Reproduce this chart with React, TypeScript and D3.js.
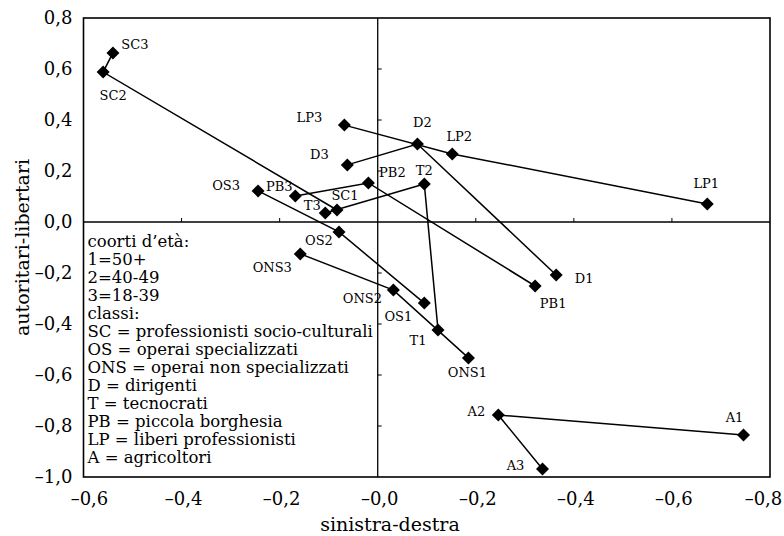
import React from 'react';
import * as d3 from 'd3';

// classes, each with cohort 1 (50+), 2 (40-49), 3 (18-39)
const classes = ['SC', 'OS', 'ONS', 'D', 'T', 'PB', 'LP', 'A'];
const cohorts = ['1', '2', '3'];

// sinistra-destra
const xValues = [
  [-0.083, -0.56, -0.54],
  [0.095, -0.079, -0.244],
  [0.185, 0.032, -0.158],
  [0.364, 0.081, -0.062],
  [0.123, 0.095, -0.107],
  [0.321, -0.019, -0.168],
  [0.672, 0.152, -0.068],
  [0.746, 0.246, 0.336],
];

// autoritari-libertari
const yValues = [
  [0.047, 0.588, 0.663],
  [-0.318, -0.039, 0.122],
  [-0.533, -0.267, -0.125],
  [-0.208, 0.306, 0.224],
  [-0.424, 0.149, 0.035],
  [-0.251, 0.153, 0.102],
  [0.071, 0.267, 0.38],
  [-0.835, -0.757, -0.969],
];

const xTicks = [-0.6, -0.4, -0.2, 0, 0.2, 0.4, 0.6, 0.8];
const xTickLabels = ['–0,6', '–0,4', '–0,2', '–0,0', '–0,2', '–0,4', '–0,6', '–0,8'];
const yTicks = [0.8, 0.6, 0.4, 0.2, 0, -0.2, -0.4, -0.6, -0.8, -1.0];
const yTickLabels = ['0,8', '0,6', '0,4', '0,2', '0,0', '–0,2', '–0,4', '–0,6', '–0,8', '–1,0'];

const legendLines = [
  'coorti d’età:',
  '1=50+',
  '2=40-49',
  '3=18-39',
  'classi:',
  'SC = professionisti socio-culturali',
  'OS = operai specializzati',
  'ONS = operai non specializzati',
  'D = dirigenti',
  'T = tecnocrati',
  'PB = piccola borghesia',
  'LP = liberi professionisti',
  'A = agricoltori',
];

// where each point label sits relative to its marker
const labelOffset: Record<string, [number, number]> = {
  SC1: [8, -15], SC2: [10, 23], SC3: [22, -8],
  OS1: [-26, 13], OS2: [-20, 9], OS3: [-32, -5],
  ONS1: [-1, 15], ONS2: [-31, 8], ONS3: [-28, 14],
  D1: [28, 3], D2: [5, -22], D3: [-28, -10],
  T1: [-20, 10], T2: [0, -14], T3: [-13, -8],
  PB1: [18, 17], PB2: [24, -11], PB3: [-16, -10],
  LP1: [-1, -20], LP2: [7, -17], LP3: [-35, -8],
  A1: [-9, -17], A2: [-22, -4], A3: [-27, -4],
};

const W = 784;
const H = 536;
const FONT = 'DejaVu Serif';

export default function App() {
  const x = d3.scaleLinear().domain([-0.6, 0.8]).range([83.5, 770]);
  const y = d3.scaleLinear().domain([0.8, -1.0]).range([18, 477]);

  const line = d3
    .line<[number, number]>()
    .x(d => x(d[0]))
    .y(d => y(d[1]));

  const diamond = 6.5;
  // end labels on the x axis are nudged inward, as in the original
  const xLabelShift = (i: number) => (i === 0 ? 6 : i === xTicks.length - 1 ? -6.5 : 2);

  return (
    <svg
      width={W}
      height={H}
      style={{ position: 'absolute', left: 0, top: 0, background: '#fff', fontFamily: FONT }}
    >
      {/* frame */}
      <rect
        x={x(-0.6)}
        y={y(0.8)}
        width={x(0.8) - x(-0.6)}
        height={y(-1.0) - y(0.8)}
        fill="none"
        stroke="#000"
        strokeWidth={1.6}
      />
      {/* zero axes */}
      <line x1={x(-0.6)} x2={x(0.8)} y1={y(0)} y2={y(0)} stroke="#000" strokeWidth={1.3} />
      <line x1={x(0)} x2={x(0)} y1={y(0.8)} y2={y(-1.0)} stroke="#000" strokeWidth={1.3} />
      {xTicks.filter(t => t !== 0 && t !== -0.6 && t !== 0.8).map(t => (
        <line key={'xt' + t} x1={x(t)} x2={x(t)} y1={y(0)} y2={y(0) - 4} stroke="#000" strokeWidth={1} />
      ))}
      {yTicks.filter(t => t !== 0 && t !== 0.8 && t !== -1.0).map(t => (
        <line key={'yt' + t} x1={x(0)} x2={x(0) + 4} y1={y(t)} y2={y(t)} stroke="#000" strokeWidth={1} />
      ))}

      {/* tick labels */}
      {xTicks.map((t, i) => (
        <text key={'xl' + i} x={x(t) + xLabelShift(i)} y={505} textAnchor="middle" fontSize={18}>
          {xTickLabels[i]}
        </text>
      ))}
      {yTicks.map((t, i) => (
        <text key={'yl' + i} x={x(-0.6) - 11} y={y(t)} dy="0.35em" textAnchor="end" fontSize={18}>
          {yTickLabels[i]}
        </text>
      ))}

      {/* axis titles */}
      <text x={390} y={531} textAnchor="middle" fontSize={19}>
        sinistra-destra
      </text>
      <text
        transform={`translate(29, ${(y(0.8) + y(-1.0)) / 2}) rotate(-90)`}
        textAnchor="middle"
        fontSize={19}
      >
        autoritari-libertari
      </text>

      {/* legend */}
      {legendLines.map((s, i) => (
        <text key={'lg' + i} x={x(-0.6) + 4} y={247 + i * 18} fontSize={16.5}>
          {s}
        </text>
      ))}

      {/* cohort paths */}
      {classes.map((c, ci) => (
        <path
          key={'p' + c}
          d={line(cohorts.map((_, k) => [xValues[ci][k], yValues[ci][k]] as [number, number])) || ''}
          fill="none"
          stroke="#000"
          strokeWidth={1.5}
        />
      ))}

      {/* markers and labels */}
      {classes.map((c, ci) =>
        cohorts.map((k, ki) => {
          const px = x(xValues[ci][ki]);
          const py = y(yValues[ci][ki]);
          const name = c + k;
          const off = labelOffset[name] || [0, -14];
          return (
            <g key={name}>
              <path
                d={`M${px},${py - diamond}L${px + diamond},${py}L${px},${py + diamond}L${px - diamond},${py}Z`}
                fill="#000"
              />
              <text x={px + off[0]} y={py + off[1]} dy="0.35em" textAnchor="middle" fontSize={13}>
                {name}
              </text>
            </g>
          );
        })
      )}
    </svg>
  );
}
